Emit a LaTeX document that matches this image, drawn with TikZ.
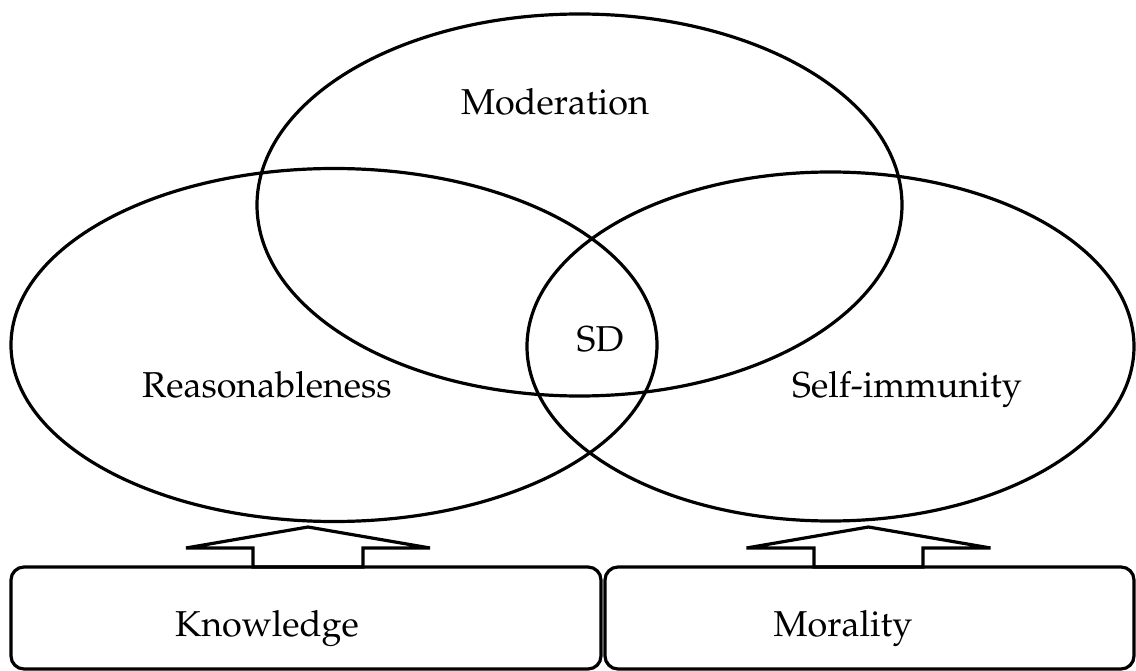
\documentclass[tikz,border=0pt]{standalone}
\usepackage[T1]{fontenc}
\usepackage{mathpazo}
\usetikzlibrary{shapes.geometric}
\begin{document}
\begin{tikzpicture}[x=1pt,y=-1pt,line width=3.2pt,
  venn/.style={draw, ellipse, inner sep=0pt},
  boxnode/.style={draw, rectangle, rounded corners=13pt, inner sep=0pt},
  lbl/.style={font=\fontsize{36}{40}\selectfont, anchor=base, inner sep=0pt},
  blockarrow/.style={draw, line join=miter}]
\useasboundingbox (0,0) rectangle (1136,671);
% ellipses
\node[venn, minimum width=645pt, minimum height=382pt] (mod) at (579.5,205) {};
\node[venn, minimum width=646pt, minimum height=353pt] (rea) at (334,345) {};
\node[venn, minimum width=607pt, minimum height=349pt] (self) at (830.5,346.5) {};
% labels
\node[lbl] (modt) at (555,115) {Moderation};
\node[lbl] (reat) at (267,397) {Reasonableness};
\node[lbl] (selft) at (907,397) {Self-immunity};
\node[lbl] (sdt) at (600,352) {SD};
% boxes
\node[boxnode, minimum width=590pt, minimum height=102pt] (know) at (306,618) {};
\node[boxnode, minimum width=529pt, minimum height=102pt] (moral) at (869.5,618) {};
\node[lbl] (knowt) at (267,636) {Knowledge};
\node[lbl] (moralt) at (843,636) {Morality};
% block arrows
\coordinate (ka) at (308,567);
\coordinate (ma) at (868.5,567);
\draw[blockarrow, shift={(ka)}] (-55,0) -- (-55,-19) -- (-122,-19) -- (0,-40) -- (122,-19) -- (55,-19) -- (55,0) -- cycle;
\draw[blockarrow, shift={(ma)}] (-54.5,0) -- (-54.5,-19) -- (-122,-19) -- (0,-40) -- (122,-19) -- (54.5,-19) -- (54.5,0) -- cycle;
\end{tikzpicture}
\end{document}
